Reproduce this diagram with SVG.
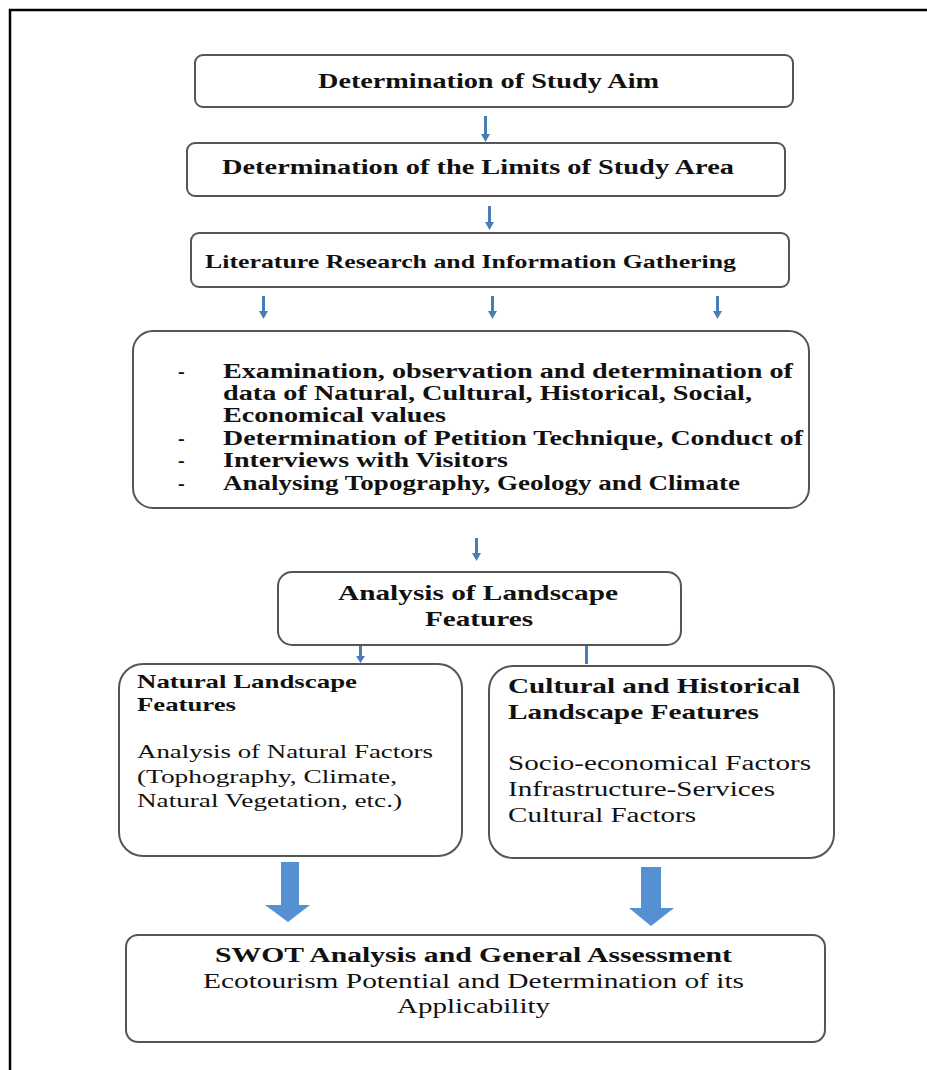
<svg xmlns="http://www.w3.org/2000/svg" width="927" height="1070" viewBox="0 0 927 1070">
<style>
.box{fill:#fff;stroke:#555;stroke-width:2}
.b{font-family:"Liberation Serif","Times New Roman",serif;font-weight:bold;fill:#111}
.r{font-family:"Liberation Serif","Times New Roman",serif;fill:#111}
.sa{fill:#4a7db8}
.ba{fill:#5590d2}
</style>
<rect width="927" height="1070" fill="#fff"/>
<path d="M10 1070 V10 H927" fill="none" stroke="#000" stroke-width="2.5"/>

<g id="connectors">
<path class="sa" d="M484 116 h3 v18 h3 l-4.5 8 l-4.5 -8 h3 z"/>
<path class="sa" d="M488 206 h3 v16 h3 l-4.5 8 l-4.5 -8 h3 z"/>
<path class="sa" d="M262 296 h3 v15 h3 l-4.5 8 l-4.5 -8 h3 z"/>
<path class="sa" d="M491 296 h3 v15 h3 l-4.5 8 l-4.5 -8 h3 z"/>
<path class="sa" d="M716 296 h3 v15 h3 l-4.5 8 l-4.5 -8 h3 z"/>
<path class="sa" d="M475 538 h3 v15 h3 l-4.5 8 l-4.5 -8 h3 z"/>
<path class="sa" d="M359 646 h3 v10 h3 l-4.5 7 l-4.5 -7 h3 z"/>
<path class="sa" d="M585 646 h3 v18 h-3 z"/>
<path class="ba" d="M281 862 h18 v43 h11 l-22 17 l-23 -17 h16 z"/>
<path class="ba" d="M641 867 h20 v41 h13 l-23 18 l-22 -18 h12 z"/>
</g>

<g id="n1">
<rect class="box" x="195" y="55" width="598" height="52" rx="8"/>
<text class="b" x="318" y="88" font-size="20" textLength="341" lengthAdjust="spacingAndGlyphs">Determination of Study Aim</text>
</g>

<g id="n2">
<rect class="box" x="187" y="143" width="598" height="53" rx="8"/>
<text class="b" x="222" y="174" font-size="20" textLength="512" lengthAdjust="spacingAndGlyphs">Determination of the Limits of Study Area</text>
</g>

<g id="n3">
<rect class="box" x="191" y="233" width="598" height="54" rx="8"/>
<text class="b" x="205" y="268" font-size="19" textLength="531" lengthAdjust="spacingAndGlyphs">Literature Research and Information Gathering</text>
</g>

<g id="n4">
<rect class="box" x="133" y="331" width="676" height="177" rx="20"/>
<text class="b" x="178" y="378" font-size="20">-</text>
<text class="b" x="223" y="378" font-size="20" textLength="570" lengthAdjust="spacingAndGlyphs">Examination, observation and determination of</text>
<text class="b" x="223" y="400" font-size="20" textLength="529" lengthAdjust="spacingAndGlyphs">data of Natural, Cultural, Historical, Social,</text>
<text class="b" x="223" y="422" font-size="20" textLength="223" lengthAdjust="spacingAndGlyphs">Economical values</text>
<text class="b" x="178" y="445" font-size="20">-</text>
<text class="b" x="223" y="445" font-size="20" textLength="580" lengthAdjust="spacingAndGlyphs">Determination of Petition Technique, Conduct of</text>
<text class="b" x="178" y="467" font-size="20">-</text>
<text class="b" x="223" y="467" font-size="20" textLength="285" lengthAdjust="spacingAndGlyphs">Interviews with Visitors</text>
<text class="b" x="178" y="490" font-size="20">-</text>
<text class="b" x="223" y="490" font-size="20" textLength="517" lengthAdjust="spacingAndGlyphs">Analysing Topography, Geology and Climate</text>
</g>

<g id="n5">
<rect class="box" x="278" y="572" width="403" height="73" rx="14"/>
<text class="b" x="338" y="600" font-size="21" textLength="280" lengthAdjust="spacingAndGlyphs">Analysis of Landscape</text>
<text class="b" x="425" y="626" font-size="21" textLength="108" lengthAdjust="spacingAndGlyphs">Features</text>
</g>

<g id="n6">
<rect class="box" x="119" y="664" width="343" height="192" rx="24"/>
<text class="b" x="137" y="688" font-size="19" textLength="220" lengthAdjust="spacingAndGlyphs">Natural Landscape</text>
<text class="b" x="137" y="711" font-size="19" textLength="99" lengthAdjust="spacingAndGlyphs">Features</text>
<text class="r" x="137" y="758" font-size="19" textLength="296" lengthAdjust="spacingAndGlyphs">Analysis of Natural Factors</text>
<text class="r" x="137" y="783" font-size="19" textLength="260" lengthAdjust="spacingAndGlyphs">(Tophography, Climate,</text>
<text class="r" x="137" y="807" font-size="19" textLength="265" lengthAdjust="spacingAndGlyphs">Natural Vegetation, etc.)</text>
</g>

<g id="n7">
<rect class="box" x="489" y="666" width="345" height="192" rx="24"/>
<text class="b" x="508" y="693" font-size="21" textLength="292" lengthAdjust="spacingAndGlyphs">Cultural and Historical</text>
<text class="b" x="508" y="719" font-size="21" textLength="251" lengthAdjust="spacingAndGlyphs">Landscape Features</text>
<text class="r" x="508" y="770" font-size="20" textLength="303" lengthAdjust="spacingAndGlyphs">Socio-economical Factors</text>
<text class="r" x="508" y="796" font-size="20" textLength="267" lengthAdjust="spacingAndGlyphs">Infrastructure-Services</text>
<text class="r" x="508" y="822" font-size="20" textLength="188" lengthAdjust="spacingAndGlyphs">Cultural Factors</text>
</g>

<g id="n8">
<rect class="box" x="126" y="935" width="699" height="107" rx="12"/>
<text class="b" x="215" y="962" font-size="20" textLength="517" lengthAdjust="spacingAndGlyphs">SWOT Analysis and General Assessment</text>
<text class="r" x="203" y="988" font-size="20" textLength="541" lengthAdjust="spacingAndGlyphs">Ecotourism Potential and Determination of its</text>
<text class="r" x="397" y="1013" font-size="20" textLength="153" lengthAdjust="spacingAndGlyphs">Applicability</text>
</g>
</svg>
